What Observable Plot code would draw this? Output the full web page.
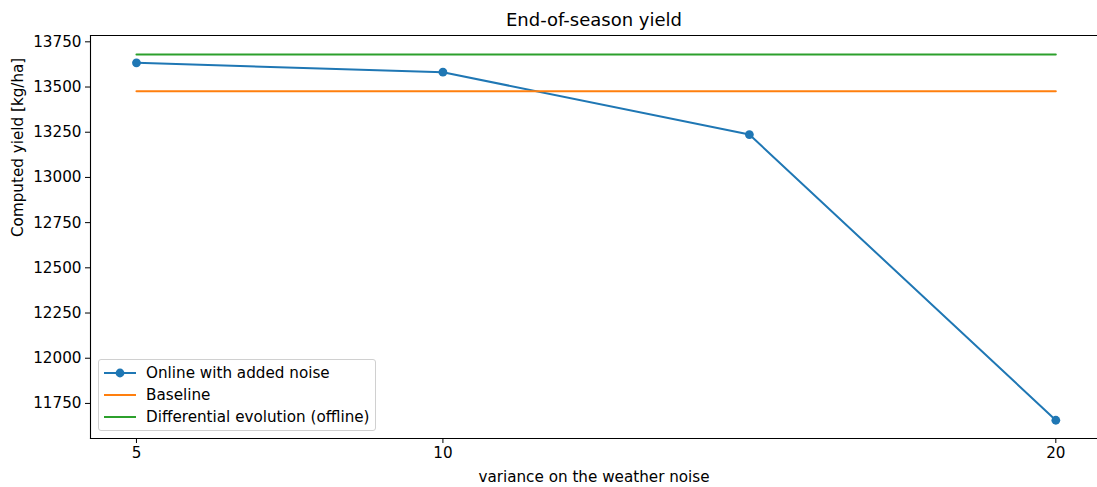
<!DOCTYPE html>
<html>
<head>
<meta charset="utf-8">
<script src="https://cdn.jsdelivr.net/npm/d3@7"></script>
<script src="https://cdn.jsdelivr.net/npm/@observablehq/plot@0.6"></script>
<style>
  html, body { margin: 0; padding: 0; background: #fff; }
  #wrap { position: relative; width: 1097px; height: 487px; font-family: "DejaVu Sans", sans-serif; }
  #legend {
    position: absolute; left: 98px; top: 359px; width: 278px; height: 72px;
    border: 1px solid #d0d0d0; border-radius: 3px; background: rgba(255,255,255,0.8);
    font-size: 15.2px; color: #000; box-sizing: border-box;
  }
  .row { position: absolute; left: 0; height: 22px; display: flex; align-items: center; }
  .row svg { margin-left: 5px; margin-right: 10px; }
</style>
</head>
<body>
<div id="wrap"></div>
<script>
// ---- data ----
const variance = [5, 10, 15, 20];
const onlineYield = [13634, 13582, 13237, 11657];
const baselineYield = 13476;
const deYield = 13680;
const xTicks = [5, 10, 20];
const yTicks = [11750, 12000, 12250, 12500, 12750, 13000, 13250, 13500, 13750];
const seriesNames = ["Online with added noise", "Baseline", "Differential evolution (offline)"];
const colors = ["#1f77b4", "#ff7f0e", "#2ca02c"];
const title = "End-of-season yield";
const xLabel = "variance on the weather noise";
const yLabel = "Computed yield [kg/ha]";

const online = variance.map((v, i) => ({x: v, y: onlineYield[i]}));
const baseline = variance.map(v => ({x: v, y: baselineYield}));
const de = variance.map(v => ({x: v, y: deYield}));

const plot = Plot.plot({
  width: 1097,
  height: 487,
  marginTop: 35,
  marginBottom: 49,
  marginLeft: 90,
  marginRight: 0,
  style: {fontFamily: "DejaVu Sans, sans-serif", fontSize: "15.2px", color: "#000", background: "#fff"},
  x: {domain: [4.25, 20.68], ticks: xTicks, tickFormat: d => String(d)},
  y: {domain: [11556, 13785], ticks: yTicks, tickFormat: d => String(d)},
  marks: [
    Plot.axisX({ticks: xTicks, tickSize: 5, tickPadding: 4, label: null, fontSize: 15.2, tickFormat: d => String(d)}),
    Plot.axisY({ticks: yTicks, tickSize: 5, tickPadding: 4, label: null, fontSize: 15.2, tickFormat: d => String(d)}),
    Plot.line(online, {x: "x", y: "y", stroke: colors[0], strokeWidth: 2}),
    Plot.dot(online, {x: "x", y: "y", r: 4.4, fill: colors[0], stroke: null}),
    Plot.line(baseline, {x: "x", y: "y", stroke: colors[1], strokeWidth: 2}),
    Plot.line(de, {x: "x", y: "y", stroke: colors[2], strokeWidth: 2}),
    Plot.frame({anchor: "top", stroke: "#000", strokeWidth: 1.1}),
    Plot.frame({anchor: "left", stroke: "#000", strokeWidth: 1.1}),
    Plot.frame({anchor: "bottom", stroke: "#000", strokeWidth: 1.1}),
    Plot.text([title], {frameAnchor: "top", dy: -15, text: d => d, fontSize: 18, lineAnchor: "middle"}),
    Plot.text([xLabel], {frameAnchor: "bottom", dy: 39, text: d => d, fontSize: 15.2, lineAnchor: "middle"}),
    Plot.text([yLabel], {frameAnchor: "left", dx: -72, rotate: -90, text: d => d, fontSize: 15.2, lineAnchor: "middle"})
  ]
});

const wrap = document.getElementById("wrap");
wrap.appendChild(plot);

const legend = document.createElement("div");
legend.id = "legend";
seriesNames.forEach((name, i) => {
  const row = document.createElement("div");
  row.className = "row";
  row.style.top = (2 + i * 22) + "px";
  const marker = i === 0 ? `<circle cx="16" cy="6" r="4.4" fill="${colors[i]}"/>` : "";
  row.innerHTML = `<svg width="32" height="12"><line x1="0" y1="6" x2="32" y2="6" stroke="${colors[i]}" stroke-width="2"/>${marker}</svg><span>${name}</span>`;
  legend.appendChild(row);
});
wrap.appendChild(legend);
</script>
</body>
</html>
